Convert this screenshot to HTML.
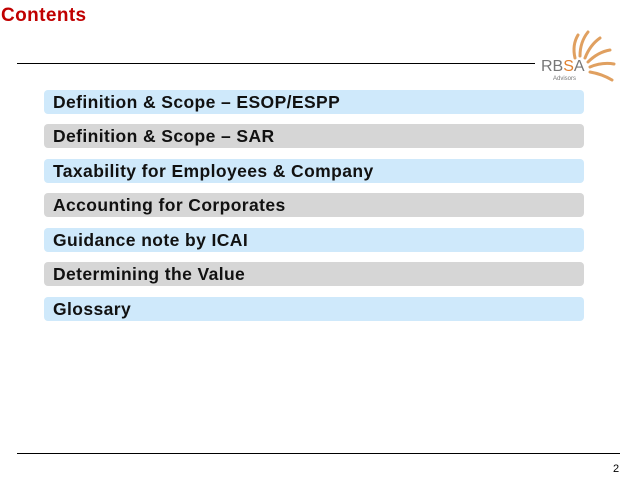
<!DOCTYPE html>
<html><head><meta charset="utf-8"><style>
body{margin:0;width:638px;height:479px;background:#fff;position:relative;overflow:hidden;font-family:"Liberation Sans",sans-serif}
.t{position:absolute;left:1px;top:5px;color:#c00000;font-weight:bold;font-size:19px;letter-spacing:0.4px}
.line{position:absolute;height:1px;background:#000}
.bar{position:absolute;left:44px;width:540px;height:24px;border-radius:4px;font-weight:bold;font-size:17.5px;line-height:25px;padding-left:9px;box-sizing:border-box;color:#111;letter-spacing:0.4px}
.b{background:#cfe9fb}.g{background:#d6d6d6}
</style></head><body>
<div class="t">Contents</div>
<div class="line" style="left:17px;top:63px;width:518px"></div>
<div style="position:absolute;left:540px;top:20px;width:98px;height:75px">
<svg width="98" height="75" viewBox="0 0 98 75">
<g stroke="#e0a060" stroke-width="3" fill="none" stroke-linecap="round">
<path d="M35 38 Q32 25 38 15"/><path d="M40 36 Q40 22 48 12"/><path d="M45 38 Q50 25 60 18"/><path d="M48 42 Q58 32 70 30"/><path d="M50 47 Q62 42 74 44"/><path d="M50 52 Q62 54 72 60"/>
</g>
<text x="1" y="51" font-family="Liberation Sans" font-size="16" fill="#777">RB<tspan fill="#e08030">S</tspan>A</text>
<text x="13" y="60" font-family="Liberation Sans" font-size="6" fill="#777">Advisors</text>
</svg></div>
<div class="bar b" style="top:90px">Definition &amp; Scope – ESOP/ESPP</div>
<div class="bar g" style="top:124px">Definition &amp; Scope – SAR</div>
<div class="bar b" style="top:159px">Taxability for Employees &amp; Company</div>
<div class="bar g" style="top:193px">Accounting for Corporates</div>
<div class="bar b" style="top:228px">Guidance note by ICAI</div>
<div class="bar g" style="top:262px">Determining the Value</div>
<div class="bar b" style="top:297px">Glossary</div>
<div class="line" style="left:17px;top:453px;width:603px"></div>
<div style="position:absolute;left:613px;top:463px;font-size:11px">2</div>
</body></html>
